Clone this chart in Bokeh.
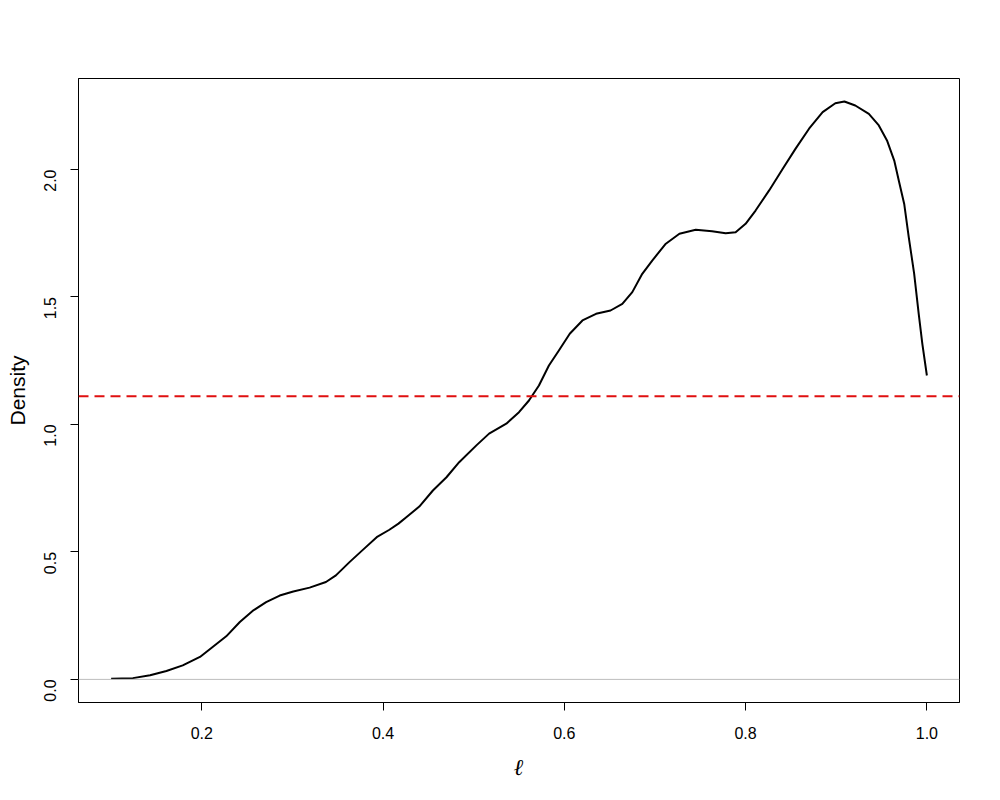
import math
from bokeh.plotting import figure
from bokeh.models import Range1d, Span, FixedTicker, NumeralTickFormatter
from bokeh.embed import file_html
from bokeh.resources import INLINE

# Density curve values
ell = [0.100, 0.124, 0.143, 0.161, 0.179, 0.198, 0.212, 0.227, 0.242, 0.257,
       0.271, 0.286, 0.301, 0.319, 0.337, 0.348, 0.363, 0.378, 0.393, 0.407,
       0.417, 0.426, 0.440, 0.455, 0.470, 0.484, 0.503, 0.517, 0.536, 0.550,
       0.561, 0.572, 0.583, 0.594, 0.606, 0.620, 0.635, 0.651, 0.664, 0.675,
       0.686, 0.697, 0.712, 0.727, 0.745, 0.763, 0.778, 0.789, 0.800, 0.811,
       0.826, 0.841, 0.855, 0.870, 0.885, 0.899, 0.909, 0.921, 0.936, 0.947,
       0.956, 0.964, 0.969, 0.975, 0.980, 0.986, 0.991, 0.995, 1.000]
density = [0.003, 0.005, 0.016, 0.033, 0.055, 0.088, 0.127, 0.169, 0.225, 0.271,
           0.303, 0.329, 0.345, 0.360, 0.382, 0.408, 0.460, 0.509, 0.558, 0.587,
           0.611, 0.637, 0.678, 0.741, 0.793, 0.852, 0.918, 0.964, 1.003, 1.048,
           1.094, 1.153, 1.231, 1.290, 1.356, 1.408, 1.434, 1.447, 1.473, 1.519,
           1.591, 1.643, 1.709, 1.748, 1.764, 1.758, 1.750, 1.754, 1.787, 1.839,
           1.918, 2.003, 2.081, 2.160, 2.225, 2.260, 2.267, 2.251, 2.218, 2.173,
           2.114, 2.035, 1.957, 1.865, 1.735, 1.591, 1.434, 1.316, 1.192]
uniform_level = 1.111
x_ticks = [0.2, 0.4, 0.6, 0.8, 1.0]
y_ticks = [0.0, 0.5, 1.0, 1.5, 2.0]
x_lo, x_hi = 0.064, 1.036
y_lo, y_hi = -0.0906, 2.357

p = figure(width=992, height=792, output_backend="svg", toolbar_location=None,
           x_range=Range1d(x_lo, x_hi), y_range=Range1d(y_lo, y_hi),
           min_border_left=78, min_border_right=33, min_border_top=78,
           min_border_bottom=90)
p.grid.visible = False
p.outline_line_color = "black"
p.outline_line_width = 1
p.background_fill_color = "white"
p.border_fill_color = "white"

p.add_layout(Span(location=0.0, dimension="width", line_color="#bebebe", line_width=1))
p.add_layout(Span(location=uniform_level, dimension="width", line_color="#e01010",
                  line_width=2, line_dash="10 6"))
p.line(ell, density, line_color="black", line_width=2, line_join="round")

for ax in (p.xaxis[0], p.yaxis[0]):
    ax.axis_line_color = "black"
    ax.major_tick_line_color = "black"
    ax.major_tick_out = 8
    ax.major_tick_in = 0
    ax.minor_tick_line_color = None
    ax.major_label_text_font = "Liberation Sans"
    ax.major_label_text_font_size = "16px"
    ax.major_label_text_color = "black"
    ax.axis_label_text_color = "black"
    ax.formatter = NumeralTickFormatter(format="0.0")

p.xaxis[0].ticker = FixedTicker(ticks=x_ticks)
p.yaxis[0].ticker = FixedTicker(ticks=y_ticks)
p.yaxis[0].major_label_orientation = math.pi / 2

p.xaxis[0].major_label_standoff = 16
p.yaxis[0].major_label_standoff = 20

p.xaxis[0].axis_label = "ℓ"
p.xaxis[0].axis_label_text_font = "DejaVu Serif"
p.xaxis[0].axis_label_text_font_style = "bold italic"
p.xaxis[0].axis_label_text_font_size = "23px"
p.xaxis[0].axis_label_standoff = 11

p.yaxis[0].axis_label = "Density"
p.yaxis[0].axis_label_text_font = "Liberation Sans"
p.yaxis[0].axis_label_text_font_style = "normal"
p.yaxis[0].axis_label_text_font_size = "21px"
p.yaxis[0].axis_label_standoff = 7

open("out.html", "w").write(file_html(p, INLINE))
